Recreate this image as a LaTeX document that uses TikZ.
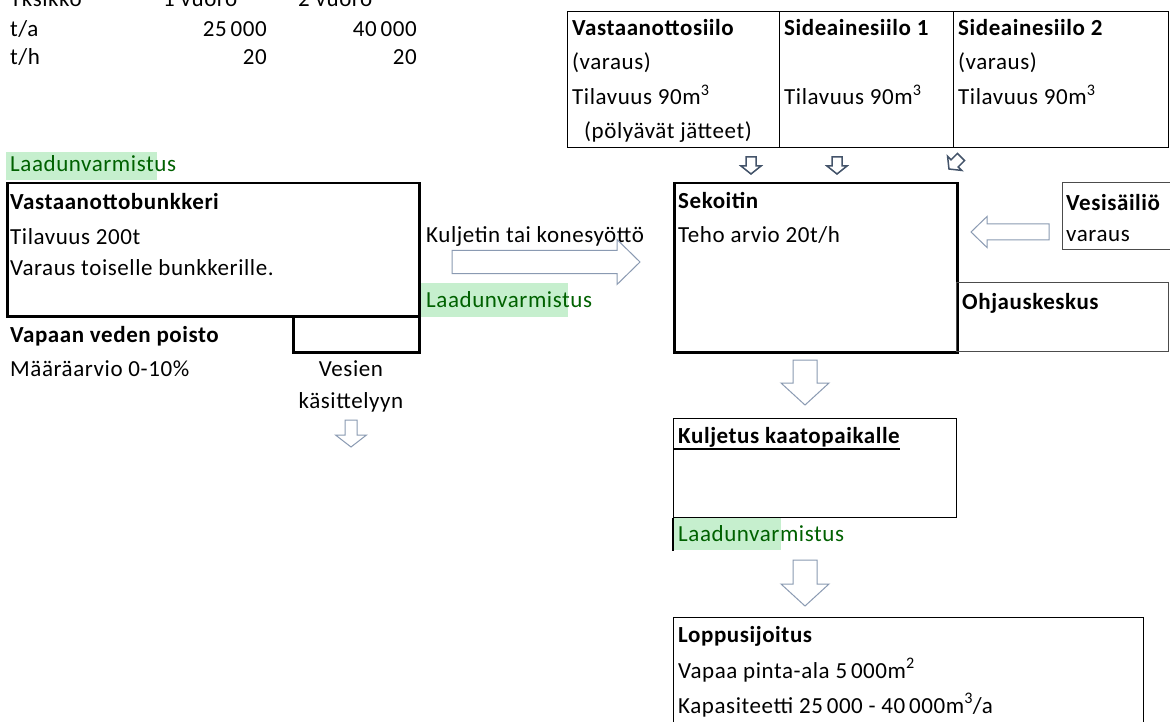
\documentclass[tikz,border=0pt]{standalone}
\usepackage{fontspec}
\setmainfont{Carlito}[LetterSpace=2.5]
\usetikzlibrary{calc}
\definecolor{hlgreen}{HTML}{C6EFCE}
\definecolor{txgreen}{HTML}{006100}
\definecolor{arrgray}{HTML}{8A9AB2}
\definecolor{arrdark}{HTML}{44546A}
\tikzset{
 txt/.style={anchor=base west, inner sep=0pt, font=\fontsize{23}{27}\selectfont},
 txtr/.style={txt, anchor=base east},
 txtc/.style={txt, anchor=base},
 txtb/.style={txt, font=\fontsize{23}{27}\selectfont\bfseries},
 qa/.style={txt, text=txgreen},
 thickbox/.style={draw, line width=2.5pt},
 thinbox/.style={draw, line width=1.3pt},
 greybox/.style={draw=black!70, line width=1pt},
 hl/.style={fill=hlgreen, draw=none},
 bigarrow/.style={draw=arrgray, fill=white, line width=1pt, line join=miter},
 smallarrow/.style={draw=arrdark, fill=white, line width=1.5pt, line join=miter},
}
% rectangle node: style, name, x1, y1, width, height
\newcommand{\boxnode}[6]{\node[#1, anchor=north west, inner sep=0pt, minimum width=#5pt, minimum height=#6pt] (#2) at (#3,#4) {};}
% block arrow: tail x, tail y, angle, length, shaft width, head width, head length, style
\newcommand{\blockarr}[8]{\draw[#8, shift={(#1,#2)}, rotate=#3] (0,{-#5/2}) -- ({#4-#7},{-#5/2}) -- ({#4-#7},{-#6/2}) -- (#4,0) -- ({#4-#7},{#6/2}) -- ({#4-#7},{#5/2}) -- (0,{#5/2}) -- cycle;}
\begin{document}
\begin{tikzpicture}[x=1pt,y=-1pt]
\useasboundingbox (0,0) rectangle (1170,722);
\clip (0,0) rectangle (1170,722);
\fill[white] (0,0) rectangle (1170,722);

% production table
\node[txt] (yks) at (10,7) {Yksikkö};
\node[txt] (v1) at (163,7) {1 vuoro};
\node[txt] (v2) at (298,7) {2 vuoro};
\node[txt] (ta) at (10,37) {t/a};
\node[txtr] (ta1) at (267,37) {25\,000};
\node[txtr] (ta2) at (417,37) {40\,000};
\node[txt] (th) at (10,65) {t/h};
\node[txtr] (th1) at (267,65) {20};
\node[txtr] (th2) at (417,65) {20};

% silos
\boxnode{thinbox}{silo1}{567}{11}{212}{136}
\boxnode{thinbox}{silo2}{779}{11}{174}{136}
\boxnode{thinbox}{silo3}{953}{11}{215}{136}
\node[txtb] (s1t) at (572,36) {Vastaanottosiilo};
\node[txt] (s1a) at (572,70) {(varaus)};
\node[txt] (s1b) at (572,105) {Tilavuus 90m\textsuperscript{3}};
\node[txt] (s1c) at (584,139) {(pölyävät jätteet)};
\node[txtb] (s2t) at (784,36) {Sideainesiilo 1};
\node[txt] (s2b) at (784,105) {Tilavuus 90m\textsuperscript{3}};
\node[txtb] (s3t) at (958,36) {Sideainesiilo 2};
\node[txt] (s3a) at (958,70) {(varaus)};
\node[txt] (s3b) at (958,105) {Tilavuus 90m\textsuperscript{3}};
\blockarr{751}{157}{-90}{17}{10}{20}{8}{smallarrow}
\blockarr{837}{157}{-90}{17}{10}{20}{8}{smallarrow}
\blockarr{961}{157}{-135}{17}{10}{20}{8}{smallarrow}

% bunker
\boxnode{hl}{hl1}{6}{152}{151}{28}
\node[qa] (qa1) at (10,172) {Laadunvarmistus};
\boxnode{thickbox}{bunker}{6}{182}{412}{133}
\node[txtb] (bt) at (10,210) {Vastaanottobunkkeri};
\node[txt] (b1) at (10,244) {Tilavuus 200t};
\node[txt] (b2) at (10,276) {Varaus toiselle bunkkerille.};
\boxnode{thickbox}{drain}{292}{315}{126}{36}
\node[txtb] (vt) at (10,342) {Vapaan veden poisto};
\node[txt] (v1l) at (10,376) {Määräarvio 0-10\%};
\node[txtc] (ve1) at (351,376) {Vesien};
\node[txtc] (ve2) at (351,408) {käsittelyyn};
\blockarr{351}{420}{-90}{27}{12}{31}{12}{bigarrow}

% transfer
\node[txt] (kul) at (426,243) {Kuljetin tai konesyöttö};
\blockarr{452}{262}{0}{188}{23}{45}{23}{bigarrow}
\boxnode{hl}{hl2}{421}{283}{147}{34}
\node[qa] (qa2) at (426,307) {Laadunvarmistus};

% mixer
\boxnode{thickbox}{sek}{673}{182}{283}{169}
\node[txtb] (sekt) at (678,209) {Sekoitin};
\node[txt] (sek1) at (678,243) {Teho arvio 20t/h};
\boxnode{greybox}{vesi}{1062}{182}{112}{67}
\node[txtb] (vesit) at (1066,211) {Vesisäiliö};
\node[txt] (vesi1) at (1066,242) {varaus};
\blockarr{1049}{232}{180}{78}{16}{31}{16}{bigarrow}
\boxnode{greybox}{ohj}{956}{282}{212}{69}
\node[txtb] (ohjt) at (962,309) {Ohjauskeskus};

% transport
\blockarr{805}{360}{-90}{45}{24}{48}{22}{bigarrow}
\boxnode{thinbox}{kulj}{673}{418}{283}{99}
\node[txtb] (kuljt) at (678,443) {Kuljetus kaatopaikalle};
\draw[line width=1.3pt] (kulj.north west |- 0,449) -- (kuljt.east |- 0,449);
\boxnode{hl}{hl3}{674}{518}{107}{32}
\draw[line width=1.3pt] (kulj.south west) -- ++(0,33);
\node[qa] (qa3) at (678,541) {Laadunvarmistus};
\blockarr{805}{560}{-90}{46}{24}{48}{22}{bigarrow}

% final
\boxnode{thinbox}{lopp}{673}{617}{470}{130}
\node[txtb] (loppt) at (678,642) {Loppusijoitus};
\node[txt] (lopp1) at (678,678) {Vapaa pinta-ala 5\,000m\textsuperscript{2}};
\node[txt] (lopp2) at (678,713) {Kapasiteetti 25\,000 - 40\,000m\textsuperscript{3}/a};
\end{tikzpicture}
\end{document}
